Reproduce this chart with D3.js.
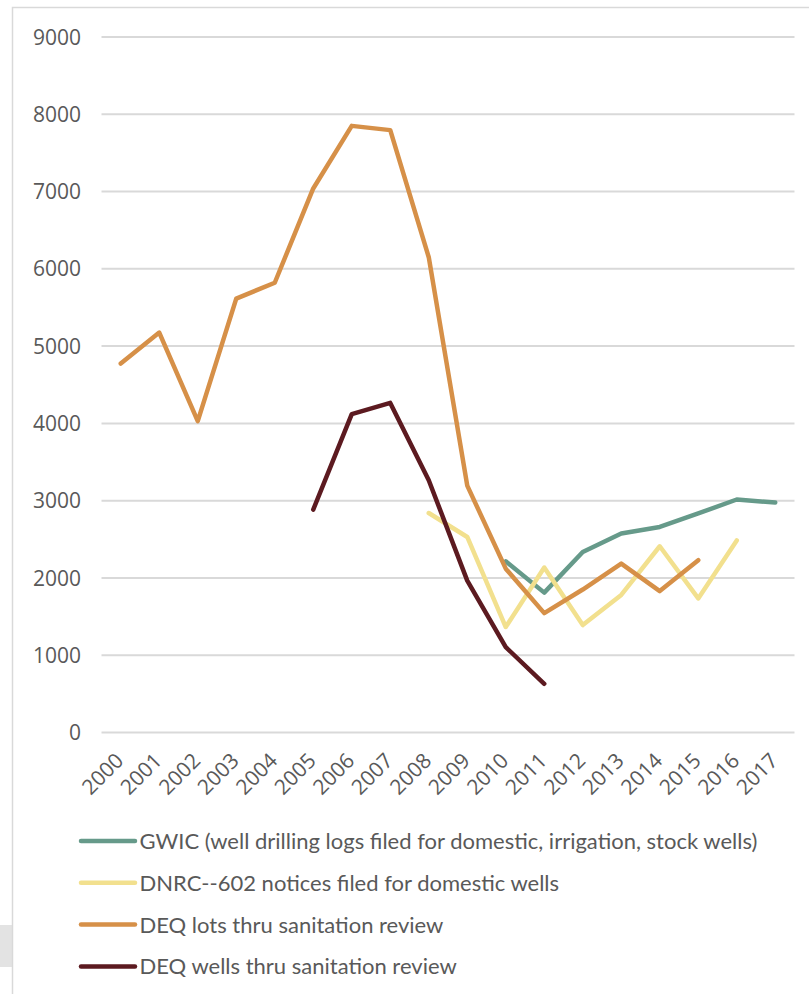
<!DOCTYPE html>
<html>
<head>
<meta charset="utf-8">
<script src="https://cdn.jsdelivr.net/npm/d3@7"></script>
<style>
    body { margin: 0; background: #fff; }
    svg { display: block; }
    text { font-family: Lato, sans-serif; fill: #595959; }
    .axis-label { font-family: 'Open Sans', sans-serif; }
</style>
</head>
<body>
<svg id="chart" width="809" height="994"></svg>
<script>
const YEARS = ['2000', '2001', '2002', '2003', '2004', '2005', '2006', '2007', '2008',
    '2009', '2010', '2011', '2012', '2013', '2014', '2015', '2016', '2017'];
const Y_TICKS = [0, 1000, 2000, 3000, 4000, 5000, 6000, 7000, 8000, 9000];

// null = no value that year
const gwic = [null, null, null, null, null, null, null, null, null, null,
    2215, 1810, 2335, 2575, 2660, 2835, 3015, 2975];
const dnrc602 = [null, null, null, null, null, null, null, null,
    2840, 2530, 1365, 2135, 1390, 1780, 2410, 1735, 2485, null];
const deqLots = [4775, 5175, 4030, 5615, 5820, 7040, 7850, 7795, 6150,
    3195, 2120, 1545, 1850, 2185, 1830, 2230, null, null];
const deqWells = [null, null, null, null, null, 2885, 4120, 4265, 3265,
    1965, 1105, 630, null, null, null, null, null, null];

const SERIES = [
    { name: 'GWIC (well drilling logs filed for domestic, irrigation, stock wells)', values: gwic, color: '#669a8a' },
    { name: 'DNRC--602 notices filed for domestic wells', values: dnrc602, color: '#f2e08e' },
    { name: 'DEQ lots thru sanitation review', values: deqLots, color: '#d69048' },
    { name: 'DEQ wells thru sanitation review', values: deqWells, color: '#5c1a20' },
];

const svg = d3.select('#chart');

// bits of the slide frame behind the chart
svg.append('rect')
    .attr('x', 0).attr('y', 925)
    .attr('width', 12).attr('height', 42)
    .attr('fill', '#e3e3e3');
svg.append('path')
    .attr('d', 'M12.5,994V7.5H809')
    .attr('fill', 'none')
    .attr('stroke', '#d9d9d9')
    .attr('stroke-width', 1.5);

const x = d3.scaleBand()
    .domain(YEARS)
    .range([101.5, 794.5]);
const y = d3.scaleLinear()
    .domain([0, 9000])
    .range([732.5, 37]);

// gridlines
svg.append('g')
    .selectAll('line')
    .data(Y_TICKS)
    .enter()
    .append('line')
    .attr('x1', 101.5)
    .attr('x2', 794.5)
    .attr('y1', d => y(d))
    .attr('y2', d => y(d))
    .attr('stroke', '#d9d9d9')
    .attr('stroke-width', 2);

// y labels
svg.append('g')
    .selectAll('text')
    .data(Y_TICKS)
    .enter()
    .append('text')
    .attr('class', 'axis-label')
    .attr('x', 81)
    .attr('y', d => y(d))
    .attr('dy', '0.36em')
    .attr('text-anchor', 'end')
    .style('font-size', '21px')
    .text(d => d);

// x labels, rotated
svg.append('g')
    .selectAll('text')
    .data(YEARS)
    .enter()
    .append('text')
    .attr('class', 'axis-label')
    .attr('transform', d => `translate(${x(d) + x.bandwidth() / 2 + 4},762) rotate(-45)`)
    .attr('text-anchor', 'end')
    .style('font-size', '21px')
    .text(d => d);

const line = d3.line()
    .defined(d => d != null)
    .x((d, i) => x(YEARS[i]) + x.bandwidth() / 2)
    .y(d => y(d));

svg.append('g')
    .selectAll('path')
    .data(SERIES)
    .enter()
    .append('path')
    .attr('d', d => line(d.values))
    .attr('fill', 'none')
    .attr('stroke', d => d.color)
    .attr('stroke-width', 4.5)
    .attr('stroke-linejoin', 'round')
    .attr('stroke-linecap', 'round');

// legend
const legend = svg.append('g')
    .selectAll('g')
    .data(SERIES)
    .enter()
    .append('g')
    .attr('transform', (d, i) => `translate(0,${841 + i * 41.8})`);
legend.append('line')
    .attr('x1', 81).attr('x2', 135)
    .attr('stroke', d => d.color)
    .attr('stroke-width', 4.5)
    .attr('stroke-linecap', 'round');
legend.append('text')
    .attr('x', 139.5)
    .attr('dy', '0.36em')
    .style('font-size', '22px')
    .text(d => d.name);
</script>
</body>
</html>
